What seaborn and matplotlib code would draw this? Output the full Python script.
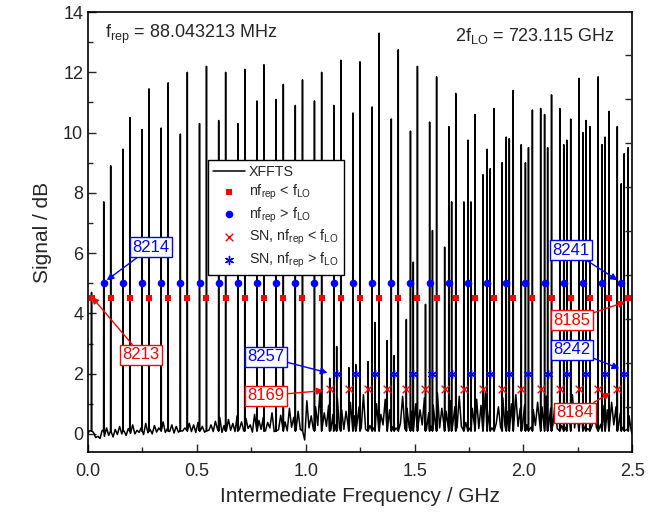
import matplotlib
matplotlib.use("Agg")
import numpy as np
import matplotlib.pyplot as plt
import seaborn as sns

# --- comb lines (IF positions in GHz) and XFFTS peak heights (dB) ---
# n*f_rep < f_LO : modes 8213 ... 8185
red_sq_x = [0.016, 0.104, 0.192, 0.280, 0.368, 0.456, 0.544, 0.632, 0.720, 0.808,
            0.897, 0.985, 1.073, 1.161, 1.249, 1.337, 1.425, 1.513, 1.601, 1.689,
            1.777, 1.865, 1.953, 2.041, 2.129, 2.217, 2.305, 2.393, 2.481]
red_sq_h = [4.7, 8.9, 10.5, 11.45, 11.65, 12.0, 12.2, 12.0, 12.1, 12.25,
            11.6, 11.75, 12.0, 12.4, 12.35, 13.3, 12.75, 12.2, 11.85, 11.3,
            10.6, 10.8, 11.4, 10.75, 11.25, 10.45, 10.2, 10.7, 9.5]
red_sq_level = 4.5

# n*f_rep > f_LO : modes 8214 ... 8241
blue_ci_x = [0.072, 0.160, 0.248, 0.336, 0.424, 0.512, 0.600, 0.688, 0.776, 0.864,
             0.952, 1.040, 1.129, 1.217, 1.305, 1.393, 1.481, 1.569, 1.657, 1.745,
             1.833, 1.921, 2.009, 2.097, 2.185, 2.273, 2.361, 2.449]
blue_ci_h = [7.7, 9.45, 10.1, 10.15, 9.95, 10.3, 10.4, 10.3, 11.05, 11.1,
             10.9, 11.05, 10.9, 10.65, 10.85, 10.45, 10.05, 10.35, 10.2, 9.75,
             9.45, 9.85, 9.0, 10.6, 9.6, 10.0, 9.6, 8.3]
blue_ci_level = 5.0

# SN, n*f_rep < f_LO : modes 8169 ... 8184
sn_red_x = [1.110, 1.198, 1.286, 1.374, 1.462, 1.550, 1.638, 1.726, 1.814, 1.902,
            1.990, 2.079, 2.167, 2.255, 2.343, 2.431]
sn_red_h = [1.85, 2.2, 2.4, 3.1, 3.8, 4.3, 6.2, 7.7, 8.6, 9.0,
            9.6, 10.8, 10.8, 11.8, 11.85, 10.2]
sn_red_level = 1.5

# SN, n*f_rep > f_LO : modes 8257 ... 8242
sn_blue_x = [1.142, 1.230, 1.318, 1.406, 1.494, 1.582, 1.670, 1.759, 1.847, 1.935,
             2.023, 2.111, 2.199, 2.287, 2.375, 2.463]
sn_blue_h = [2.9, 2.3, 3.7, 2.6, 5.7, 6.75, 7.7, 7.7, 8.8, 9.8,
             9.5, 9.5, 9.75, 10.4, 9.85, 9.3]
sn_blue_level = 2.0

# noise floor of the spectrum: local maxima and minima, one pair every 20 MHz
grass_h = [0.10, 0.05, -0.08, 0.12, 0.20, 0.08, 0.15, 0.25, 0.10, 0.18,
           0.30, 0.12, 0.22, 0.35, 0.15, 0.28, 0.20, 0.40, 0.18, 0.30,
           0.25, 0.45, 0.20, 0.35, 0.30, 0.38, 0.25, 0.50, 0.30, 0.42,
           0.55, 0.28, 0.48, 0.35, 0.60, 0.40, 0.52, 0.30, 0.65, 0.45,
           0.55, 0.38, 0.70, 0.50, 0.62, 0.40, 0.85, 0.55, 0.75, -0.45,
           1.10, 0.60, 0.90, 1.40, 0.70, 0.95, 0.65, 1.20, 0.80, 0.75,
           1.05, 0.60, 0.90, 1.30, 0.70, 0.85, 1.00, 0.65, 1.15, 0.80,
           0.95, 0.70, 1.25, 0.85, 0.75, 1.00, 0.80, 1.20, 0.70, 0.95,
           1.35, 0.85, 0.75, 1.10, 0.90, 1.25, 0.70, 1.00, 0.85, 1.15,
           0.95, 1.40, 0.80, 1.05, 0.90, 1.20, 0.75, 1.00, 1.30, 0.85,
           0.95, 1.15, 0.80, 1.05, 0.90, 1.25, 0.85, 1.00, 0.75, 1.10,
           0.95, 1.30, 0.80, 1.00, 0.90, 1.15, 0.85, 1.20, 0.95, 0.80,
           1.05, 0.90, 0.70, 0.85, 0.60]
grass_low = [-0.10, -0.12, -0.15, -0.08, -0.05, -0.10, -0.02, 0.00, -0.05, 0.02,
             0.00, 0.05, -0.02, 0.04, 0.00, 0.06, 0.02, 0.05, 0.08, 0.03,
             0.06, 0.10, 0.04, 0.08, 0.05, 0.10, 0.06, 0.12, 0.08, 0.15,
             0.05, 0.10, 0.12, 0.08, 0.15, 0.10, 0.18, 0.06, 0.12, 0.15,
             0.10, 0.20, 0.08, 0.14, 0.18, 0.10, 0.22, 0.12, 0.15, -0.20,
             0.20, 0.15, 0.28, 0.18, 0.25, 0.12, 0.30, 0.20, 0.15, 0.25,
             0.18, 0.32, 0.20, 0.15, 0.28, 0.22, 0.18, 0.30, 0.15, 0.25,
             0.20, 0.35, 0.18, 0.22, 0.28, 0.20, 0.30, 0.18, 0.25, 0.35,
             0.20, 0.28, 0.15, 0.30, 0.22, 0.25, 0.38, 0.20, 0.28, 0.18,
             0.32, 0.25, 0.20, 0.35, 0.22, 0.28, 0.18, 0.30, 0.25, 0.20,
             0.30, 0.22, 0.28, 0.35, 0.20, 0.25, 0.30, 0.18, 0.28, 0.22,
             0.35, 0.20, 0.25, 0.30, 0.18, 0.28, 0.22, 0.32, 0.20, 0.25,
             0.30, 0.18, 0.22, 0.15, 0.10]
grass_step = 0.02

# labelled modes: (text, colour, arrow tip, box centre)
labels = [
    ("8214", "blue", (0.086, 5.1), (0.290, 6.2)),
    ("8213", "red", (0.017, 4.55), (0.244, 2.62)),
    ("8257", "blue", (1.100, 2.03), (0.817, 2.56)),
    ("8169", "red", (1.082, 1.44), (0.817, 1.27)),
    ("8241", "blue", (2.432, 5.1), (2.219, 6.09)),
    ("8185", "red", (2.468, 4.38), (2.224, 3.78)),
    ("8242", "blue", (2.440, 2.17), (2.224, 2.79)),
    ("8184", "red", (2.400, 1.36), (2.237, 0.70)),
]

# --- build the XFFTS trace ---
peaks_x = red_sq_x + blue_ci_x + sn_red_x + sn_blue_x
peaks_h = red_sq_h + blue_ci_h + sn_red_h + sn_blue_h
pts = []
for p, h in zip(peaks_x, peaks_h):
    pts += [(p - 0.0007, 0.1), (p, h), (p + 0.0007, 0.1)]
pk = np.array(peaks_x)
for i, (hi, lo) in enumerate(zip(grass_h, grass_low)):
    for gx, gy in ((i * grass_step + 0.005, hi), (i * grass_step + 0.015, lo)):
        if np.min(np.abs(pk - gx)) > 0.002:
            pts.append((gx, gy))
pts.sort()
spec_x = [0.0] + [q[0] for q in pts] + [2.5]
spec_y = [0.0] + [q[1] for q in pts] + [0.0]

# --- plot ---
sns.set_style("ticks")
plt.rcParams["font.family"] = ["Liberation Sans", "DejaVu Sans"]
plt.rcParams["mathtext.fontset"] = "custom"
plt.rcParams["mathtext.rm"] = "Liberation Sans"
plt.rcParams["mathtext.default"] = "regular"

fig = plt.figure(figsize=(6.67, 5.14), dpi=100)
ax = fig.add_axes([0.132, 0.1206, 0.816, 0.856])

sns.lineplot(x=spec_x, y=spec_y, sort=False, estimator=None, color="black",
             lw=1.1, label="XFFTS", ax=ax, zorder=2)
sns.scatterplot(x=red_sq_x, y=[red_sq_level] * len(red_sq_x), marker="s", color="red",
                s=22, linewidth=0, label=r"nf$_{rep}$ < f$_{LO}$", ax=ax, zorder=3)
sns.scatterplot(x=blue_ci_x, y=[blue_ci_level] * len(blue_ci_x), marker="o", color="blue",
                s=30, linewidth=0, label=r"nf$_{rep}$ > f$_{LO}$", ax=ax, zorder=3)
sns.scatterplot(x=sn_red_x, y=[sn_red_level] * len(sn_red_x), marker="x", color="red",
                s=30, linewidth=1.0, label=r"SN, nf$_{rep}$ < f$_{LO}$", ax=ax, zorder=3)
sns.scatterplot(x=sn_blue_x, y=[sn_blue_level] * len(sn_blue_x), marker=(6, 2, 0), color="blue",
                s=34, linewidth=1.0, label=r"SN, nf$_{rep}$ > f$_{LO}$", ax=ax, zorder=3)

ax.set_xlim(0, 2.5)
ax.set_ylim(-0.6, 14)
ax.set_xticks(np.arange(0, 2.51, 0.5))
ax.set_xticks(np.arange(0, 2.51, 0.25), minor=True)
ax.set_yticks(np.arange(0, 15, 2))
ax.set_yticks(np.arange(0, 15, 1), minor=True)
ax.tick_params(which="both", direction="in", labelsize=13, width=1)
ax.tick_params(which="major", length=6)
ax.tick_params(which="minor", length=3.5)
ax.tick_params(axis="x", pad=8)
ax.set_xlabel("Intermediate Frequency / GHz", fontsize=15, labelpad=5)
ax.set_ylabel("Signal / dB", fontsize=15, labelpad=8)
for sp in ax.spines.values():
    sp.set_linewidth(1.2)
    sp.set_color("black")

ax2 = ax.twinx()
ax2.set_ylim(-1.03, 8.97)
ax2.set_yticks(range(9))
ax2.set_yticklabels([])
ax2.tick_params(direction="in", length=5, width=1)
for sp in ax2.spines.values():
    sp.set_visible(False)

ax.text(0.08, 13.25, r"f$_{rep}$ = 88.043213 MHz", fontsize=13, va="center", ha="left")
ax.text(2.42, 13.2, r"2f$_{LO}$ = 723.115 GHz", fontsize=13, va="center", ha="right")

for txt, col, tip, box in labels:
    ax.annotate(txt, xy=tip, xytext=box, color=col, fontsize=12, ha="center", va="center",
                bbox=dict(boxstyle="square,pad=0.15", fc="white", ec=col, lw=1),
                arrowprops=dict(arrowstyle="-|>", color=col, lw=1, shrinkA=0, shrinkB=0,
                                mutation_scale=10), zorder=5)

handles, labs = ax.get_legend_handles_labels()
leg = ax.legend(handles, labs, loc="upper left", bbox_to_anchor=(0.2206, 0.664), fontsize=10.3,
                frameon=True, fancybox=False, edgecolor="black", framealpha=1,
                borderpad=0.35, labelspacing=0.25, handlelength=2.2, handletextpad=0.3,
                borderaxespad=0)
leg.get_frame().set_linewidth(1.0)
leg.set_zorder(6)

fig.savefig("out.png", dpi=100)
